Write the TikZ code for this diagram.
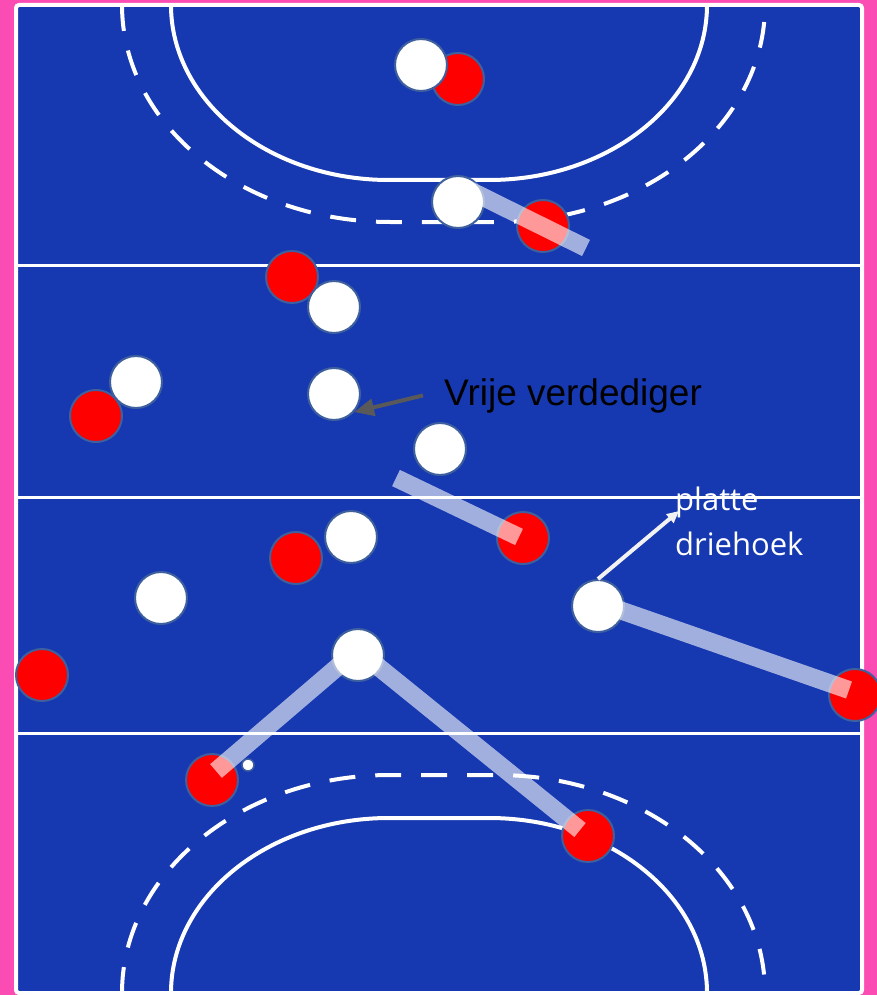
\documentclass[tikz,border=0pt]{standalone}
\usepackage{fontspec}
\setmainfont{Liberation Sans}
\newfontfamily\opensans{Open Sans}
\usetikzlibrary{arrows.meta}

\definecolor{roze}{RGB}{250,76,178}
\definecolor{veld}{RGB}{22,56,176}
\definecolor{rand}{RGB}{62,96,158}
\definecolor{pijlgrijs}{RGB}{89,89,89}

\tikzset{
  speler/.style={circle,draw=rand,line width=2pt,minimum size=52pt,inner sep=0pt},
  rood/.style={speler,fill=red},
  wit/.style={speler,fill=white},
  lijn/.style={draw=white,line width=3pt},
  boog/.style={draw=white,line width=4pt},
  streep/.style={boog,dash pattern=on 26pt off 20pt},
  balk/.style={draw=white,draw opacity=.6,line width=18pt},
  grijzepijl/.style={draw=pijlgrijs,line width=4pt,-{Triangle[length=20pt,width=17pt]}},
  wittepijl/.style={draw=white!95!black,line width=4pt,-{Triangle[length=12pt,width=11pt]}},
}

\begin{document}
\begin{tikzpicture}[x=1pt,y=1pt,yscale=-1]
      	\useasboundingbox (0,0) rectangle (877,995);
      	\fill[roze] (0,0) rectangle (877,995);
      	
      	% veld
      	\draw[line width=4pt,draw=white,fill=veld,rounded corners=3pt] (16,5) rectangle (862,993);
      	\foreach \y in {265,497,733}
      		\draw[lijn] (18,\y) -- (860,\y);
      	
      	% cirkels boven
      	\draw[boog] (171,5) arc[start angle=180,end angle=90,x radius=218pt,y radius=175pt]
      		-- (489,180) arc[start angle=90,end angle=0,x radius=218pt,y radius=175pt];
      	\draw[streep] (122,5) arc[start angle=180,end angle=90,x radius=268pt,y radius=217pt]
      		-- (497,222) arc[start angle=90,end angle=0,x radius=268pt,y radius=217pt];
      	% cirkels onder
      	\draw[boog] (171,993) arc[start angle=180,end angle=270,x radius=218pt,y radius=175pt]
      		-- (489,818) arc[start angle=270,end angle=360,x radius=218pt,y radius=175pt];
      	\draw[streep] (122,993) arc[start angle=180,end angle=270,x radius=268pt,y radius=218pt]
      		-- (497,775) arc[start angle=270,end angle=360,x radius=268pt,y radius=218pt];
      	
      	% rood
      	\node[rood] (r1) at (458,79) {};
      	\node[rood] (r2) at (543,226) {};
      	\node[rood] (r3) at (292,277) {};
      	\node[rood] (r4) at (96,416) {};
      	\node[rood] (r5) at (523,538) {};
      	\node[rood] (r6) at (296,558) {};
      	\node[rood] (r7) at (42,675) {};
      	\node[rood] (r8) at (855,695) {};
      	\node[rood] (r9) at (212,780) {};
      	\node[rood] (r10) at (588,836) {};
      	
      	% wit
      	\node[wit] (w1) at (421,65) {};
      	\node[wit] (w2) at (458,202) {};
      	\node[wit] (w3) at (334,307) {};
      	\node[wit] (w4) at (136,382) {};
      	\node[wit] (w5) at (334,394) {};
      	\node[wit] (w6) at (440,449) {};
      	\node[wit] (w7) at (351,537) {};
      	\node[wit] (w8) at (161,598) {};
      	\node[wit] (w9) at (598,606) {};
      	\node[wit] (w10) at (358,655) {};
      	\node[circle,draw=rand,line width=1.5pt,fill=white,minimum size=12pt,inner sep=0pt] (bal) at (248,765) {};
      	
      	% balken
      	\coordinate (b1a) at (463,187); \coordinate (b1b) at (586,248);
      	\coordinate (b2a) at (396,478); \coordinate (b2b) at (519,537);
      	\coordinate (b3a) at (591,600); \coordinate (b3b) at (849,690);
      	\coordinate (b4a) at (355,652); \coordinate (b4b) at (216,771);
      	\coordinate (b5a) at (360,652); \coordinate (b5b) at (580,830);
      	\draw[balk] (b1a) -- (b1b);
      	\draw[balk] (b2a) -- (b2b);
      	\draw[balk] (b3a) -- (b3b);
      	\draw[balk] (b4a) -- (b4b);
      	\draw[balk] (b5a) -- (b5b);
      	
      	% teksten
      	\node[font=\fontsize{37}{44}\selectfont,anchor=base west,inner sep=0pt,inner xsep=21pt] (vrij) at (423,405) {Vrije verdediger};
      	\draw[grijzepijl] (vrij.west) -- (w5.-42);
      	\node[font=\opensans\fontsize{31}{45}\selectfont,text=white,align=left,anchor=base west,inner sep=0pt] (platte) at (675,555) {platte\\driehoek};
      	\coordinate (punt) at (679,511);
      	\draw[wittepijl] (w9.north) -- (punt);
\end{tikzpicture}
\end{document}
